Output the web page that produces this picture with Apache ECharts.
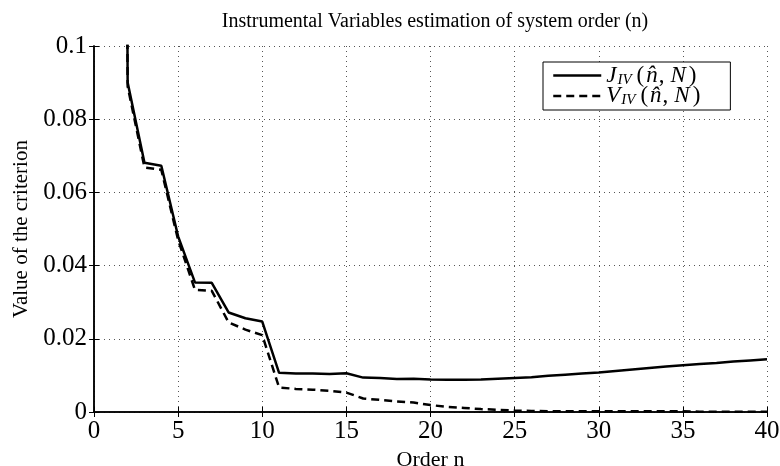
<!DOCTYPE html>
<html>
<head>
<meta charset="utf-8">
<script src="https://cdn.jsdelivr.net/npm/echarts@6/dist/echarts.min.js"></script>
<style>
  html, body { margin: 0; padding: 0; background: #fff; }
  #chart { width: 780px; height: 466px; }
</style>
</head>
<body>
<div id="chart"></div>
<script>
// model orders n
const orders = [1, 2, 3, 4, 5, 6, 7, 8, 9, 10,
    11, 12, 13, 14, 15, 16, 17, 18, 19, 20,
    21, 22, 23, 24, 25, 26, 27, 28, 29, 30,
    31, 32, 33, 34, 35, 36, 37, 38, 39, 40];

// J_IV(n, N) - solid
const jValues = [1.0, 0.090, 0.0681, 0.0673, 0.0480, 0.0354, 0.0353, 0.0272, 0.0256, 0.0247,
    0.0107, 0.0105, 0.0105, 0.0104, 0.0106, 0.0094, 0.0093, 0.0090, 0.0091, 0.0089,
    0.0088, 0.0088, 0.0089, 0.0091, 0.0093, 0.0095, 0.0099, 0.0102, 0.0105, 0.0108,
    0.0112, 0.0116, 0.0120, 0.0124, 0.0128, 0.0131, 0.0134, 0.0138, 0.0141, 0.0144];

// V_IV(n, N) - dashed
const vValues = [1.0, 0.089, 0.0668, 0.0662, 0.0470, 0.0334, 0.0331, 0.0245, 0.0225, 0.0210,
    0.0067, 0.0063, 0.0061, 0.0058, 0.0053, 0.0037, 0.0033, 0.0029, 0.0026, 0.0019,
    0.0014, 0.0011, 0.0008, 0.0006, 0.0004, 0.0003, 0.0002, 0.0002, 0.0002, 0.0002,
    0.0002, 0.0002, 0.0002, 0.0002, 0.0002, 0.0001, 0.0001, 0.0001, 0.0001, 0.0001];

const xTicks = [0, 5, 10, 15, 20, 25, 30, 35, 40];
const yTicks = ['0', '0.02', '0.04', '0.06', '0.08', '0.1'];

const font = 'Liberation Serif';
const chart = echarts.init(document.getElementById('chart'));

const pairs = vals => orders.map((n, i) => [n, vals[i]]);

const gridLine = {
    show: true,
    lineStyle: { color: '#555', width: 1, type: [1, 4] }
};

const mathStyle = (size, italic, pad) => ({
    fontFamily: font, fontSize: size, fontStyle: italic ? 'italic' : 'normal', color: '#000', padding: pad
});

const option = {
    backgroundColor: '#fff',
    animation: false,
    color: ['#000', '#000'],
    title: {
        text: 'Instrumental Variables estimation of system order (n)',
        left: 430,
        textAlign: 'center',
        top: 7,
        textStyle: { fontFamily: font, fontSize: 20, fontWeight: 'normal', color: '#000' }
    },
    grid: { left: 94, right: 13, top: 46, bottom: 54, show: false, outerBoundsMode: 'none', containLabel: false },
    legend: {
        orient: 'vertical',
        left: 543,
        top: 62,
        padding: [2, 30, 2, 9],
        itemGap: -3,
        itemWidth: 48,
        itemHeight: 20,
        backgroundColor: '#fff',
        borderColor: '#000',
        borderWidth: 1,
        borderRadius: 0,
        itemStyle: { opacity: 0 },
        lineStyle: { width: 2.5 },
        data: ['J', 'V'],
        formatter: name =>
            '{j|' + name + '}{s|IV}{p|(}{n|n\u0302}{c|,}{N|N}{p|)}',
        textStyle: {
            fontFamily: font,
            fontSize: 23,
            color: '#000',
            rich: {
                j: mathStyle(23, true, [0, 1, 0, 0]),
                s: mathStyle(15, true, [9, 3, 0, 0]),
                p: mathStyle(23, false, [0, 2, 0, 2]),
                n: mathStyle(23, true, [0, 1, 0, 0]),
                c: mathStyle(23, false, [0, 5, 0, 0]),
                N: mathStyle(23, true, [0, 1, 0, 1])
            }
        }
    },
    xAxis: [{
        type: 'value',
        min: 0,
        max: 40,
        interval: 5,
        name: 'Order n',
        nameLocation: 'middle',
        nameGap: 27,
        nameTextStyle: { fontFamily: font, fontSize: 22, color: '#000' },
        axisLine: { show: true, onZero: false, lineStyle: { color: '#000', width: 1.5 } },
        axisTick: { show: true, inside: true, length: 5, lineStyle: { color: '#000' } },
        axisLabel: {
            fontFamily: font, fontSize: 25, color: '#000', margin: 7,
            formatter: v => xTicks.includes(v) ? String(v) : ''
        },
        splitLine: gridLine
    }, {
        type: 'value',
        position: 'top',
        min: 0,
        max: 40,
        interval: 5,
        axisLine: { show: true, lineStyle: { color: '#000', width: 1.5 } },
        axisTick: { show: true, inside: true, length: 5, lineStyle: { color: '#000' } },
        axisLabel: { show: false },
        splitLine: { show: false }
    }],
    yAxis: [{
        type: 'value',
        min: 0,
        max: 0.1,
        interval: 0.02,
        name: 'Value of the criterion',
        nameLocation: 'middle',
        nameGap: 53,
        nameTextStyle: { fontFamily: font, fontSize: 21, color: '#000' },
        axisLine: { show: true, onZero: false, lineStyle: { color: '#000', width: 1.5 } },
        axisTick: { show: true, inside: true, length: 5, lineStyle: { color: '#000' } },
        axisLabel: {
            fontFamily: font, fontSize: 25, color: '#000', margin: 7,
            formatter: (v, i) => yTicks[i]
        },
        splitLine: gridLine
    }, {
        type: 'value',
        position: 'right',
        min: 0,
        max: 0.1,
        interval: 0.02,
        axisLine: { show: true, lineStyle: { color: '#000', width: 1.5 } },
        axisTick: { show: true, inside: true, length: 5, lineStyle: { color: '#000' } },
        axisLabel: { show: false },
        splitLine: { show: false }
    }],
    series: [{
        name: 'J',
        type: 'line',
        data: pairs(jValues),
        symbol: 'none',
        clip: true,
        lineStyle: { color: '#000', width: 2.5, type: 'solid' },
        z: 3
    }, {
        name: 'V',
        type: 'line',
        data: pairs(vValues),
        symbol: 'none',
        clip: true,
        lineStyle: { color: '#000', width: 2.5, type: [8, 5] },
        z: 2
    }]
};

chart.setOption(option);
</script>
</body>
</html>
